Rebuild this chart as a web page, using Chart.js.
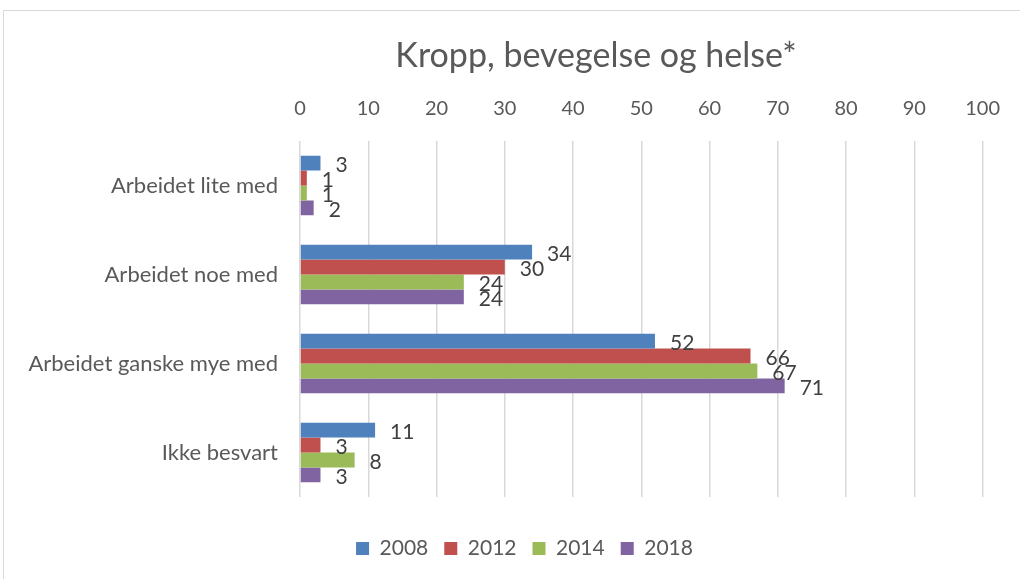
<!DOCTYPE html>
<html>
<head>
<meta charset="utf-8">
<script src="https://cdn.jsdelivr.net/npm/chart.js@4/dist/chart.umd.min.js"></script>
<style>
  html, body { margin: 0; padding: 0; background: #fff; }
  #wrap { width: 1020px; height: 579px; }
</style>
</head>
<body>
<div id="wrap"><canvas id="myChart" width="1020" height="579"></canvas></div>
<script>
const categories = ['Arbeidet lite med', 'Arbeidet noe med', 'Arbeidet ganske mye med', 'Ikke besvart'];
const years = ['2008', '2012', '2014', '2018'];
const values2008 = [3, 34, 52, 11];
const values2012 = [1, 30, 66, 3];
const values2014 = [1, 24, 67, 8];
const values2018 = [2, 24, 71, 3];
const barColors = ['#4F81BD', '#C0504D', '#9BBB59', '#8064A2'];
const chartTitle = 'Kropp, bevegelse og helse*';

const fontName = 'Lato, "Open Sans", sans-serif';
const textColor = '#595959';

// border around the whole chart, and the title (it sits off-centre in the original)
const framePlugin = {
    id: 'frame',
    afterLayout(chart) {
        // legend is a bit right of centre too
        chart.legend.left += 31;
        chart.legend.right += 31;
    },
    beforeDraw(chart) {
        const ctx = chart.ctx;
        ctx.save();
        ctx.fillStyle = '#fff';
        ctx.fillRect(0, 0, chart.width, chart.height);
        ctx.strokeStyle = '#d9d9d9';
        ctx.lineWidth = 1;
        ctx.strokeRect(3.5, 10.5, 1020, 580);
        ctx.font = '34px ' + fontName;
        ctx.fillStyle = textColor;
        ctx.textAlign = 'center';
        ctx.textBaseline = 'middle';
        ctx.fillText(chartTitle, 596, 56);
        ctx.restore();
    }
};

// value labels right of each bar
const valueLabels = {
    id: 'valueLabels',
    afterDatasetsDraw(chart) {
        const ctx = chart.ctx;
        ctx.save();
        ctx.font = '21px ' + fontName;
        ctx.fillStyle = '#404040';
        ctx.textAlign = 'left';
        ctx.textBaseline = 'middle';
        chart.data.datasets.forEach(function(ds, i) {
            const meta = chart.getDatasetMeta(i);
            meta.data.forEach(function(bar, j) {
                ctx.fillText(String(ds.data[j]), bar.x + 15, bar.y + 2);
            });
        });
        ctx.restore();
    }
};

const allValues = [values2008, values2012, values2014, values2018];

const myChart = new Chart('myChart', {
    type: 'bar',
    data: {
        labels: categories,
        datasets: years.map(function(y, i) {
            return {
                label: y,
                data: allValues[i],
                backgroundColor: barColors[i],
                barPercentage: 1,
                categoryPercentage: 0.67
            };
        })
    },
    options: {
        indexAxis: 'y',
        responsive: false,
        animation: false,
        layout: { padding: { top: 74, right: 33, bottom: 10, left: 0 } },
        scales: {
            x: {
                position: 'top',
                min: 0,
                max: 100,
                ticks: { stepSize: 10, color: textColor, font: { family: fontName, size: 20 }, padding: 20 },
                grid: { color: '#d9d9d9', lineWidth: 1.5, drawTicks: false },
                border: { display: false },
                afterFit(scale) { scale.height = 67; }
            },
            // empty axis, only keeps a gap between the bars and the legend
            gap: {
                type: 'linear',
                position: 'bottom',
                display: true,
                ticks: { display: false },
                grid: { display: false },
                border: { display: false },
                afterFit(scale) { scale.height = 25; }
            },
            y: {
                ticks: { color: textColor, font: { family: fontName, size: 22 }, padding: 14 },
                grid: { display: false },
                border: { display: false },
                afterFit(scale) { scale.width = 300; }
            }
        },
        plugins: {
            title: { display: false },
            legend: {
                position: 'bottom',
                labels: {
                    color: textColor,
                    font: { family: fontName, size: 21 },
                    boxWidth: 13,
                    boxHeight: 13,
                    padding: 16
                }
            },
            tooltip: { enabled: false }
        }
    },
    plugins: [framePlugin, valueLabels]
});
</script>
</body>
</html>
